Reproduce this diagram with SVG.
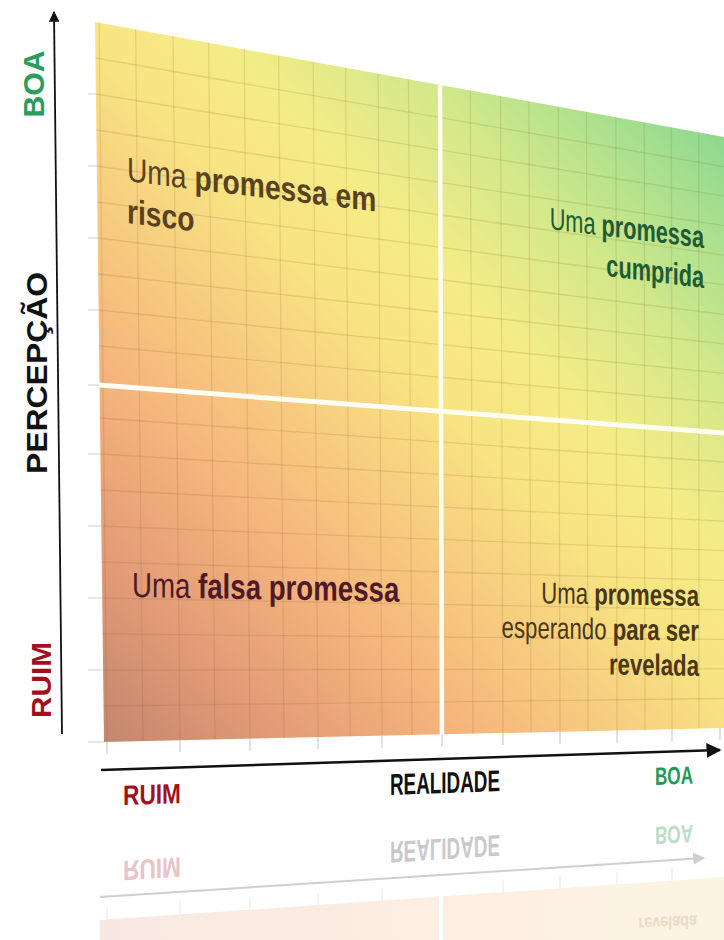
<svg xmlns="http://www.w3.org/2000/svg" width="724" height="940" viewBox="0 0 724 940">
<defs>
<style>
text{font-family:"Liberation Sans",Arial,"DejaVu Sans",sans-serif;}
.b{font-weight:bold}
.grid{fill:none;stroke:#7a5a28;stroke-opacity:0.15;stroke-width:1.3}
.tick{fill:none;stroke:#cdcdcd;stroke-width:1.2}
.rtick{fill:none;stroke:#ececec;stroke-width:1.2}
.div{stroke:#fffef2;fill:none}
</style>
<linearGradient id="panelGrad" gradientUnits="userSpaceOnUse" x1="104" y1="742" x2="724" y2="137">
<stop offset="0" stop-color="#c4866e"/>
<stop offset="0.14" stop-color="#e09a76"/>
<stop offset="0.3" stop-color="#f5b47c"/>
<stop offset="0.42" stop-color="#f7ca7f"/>
<stop offset="0.55" stop-color="#f8e382"/>
<stop offset="0.66" stop-color="#f5ec86"/>
<stop offset="0.8" stop-color="#d2e88a"/>
<stop offset="0.92" stop-color="#a8e08e"/>
<stop offset="1" stop-color="#8ed890"/>
</linearGradient>
<linearGradient id="reflGrad" x1="0" y1="0" x2="1" y2="0">
<stop offset="0" stop-color="#e3ad97"/>
<stop offset="0.5" stop-color="#f3c096"/>
<stop offset="1" stop-color="#f5d99a"/>
</linearGradient>
<marker id="arrowK" viewBox="0 0 10 10" refX="9" refY="5" markerWidth="6" markerHeight="6" orient="auto" markerUnits="strokeWidth">
<path d="M0,0 L10,5 L0,10 z" fill="#111"/>
</marker>
<marker id="arrowG" viewBox="0 0 10 10" refX="9" refY="5" markerWidth="6" markerHeight="6" orient="auto" markerUnits="strokeWidth">
<path d="M0,0 L10,5 L0,10 z" fill="#cfcfcf"/>
</marker>
</defs>

<rect width="724" height="940" fill="#ffffff"/>

<!-- reflection -->
<g id="reflection">
<polygon points="100,920 724,877 724,940 100,940" fill="url(#reflGrad)" opacity="0.28"/>
<path class="rtick" d="M107,907 L107,919.5 M180,902 L180,914.5 M250,897 L250,909.7 M318,893 L318,905 M382,888 L382,900.6 M503,880 L503,892.2 M560,876 L560,888.3 M617,872 L617,884.4 M672,868 L672,880.6"/>
<line x1="441" y1="896" x2="441" y2="940" stroke="#ffffff" stroke-width="4"/>
<line x1="100" y1="897" x2="704" y2="858" stroke="#cfcfcf" stroke-width="2" marker-end="url(#arrowG)"/>
<text class="b" transform="translate(123,861) skewY(-3.6) scale(1,-1)" font-size="28" textLength="58" lengthAdjust="spacingAndGlyphs" fill="#e8c3c7">RUIM</text>
<text class="b" transform="translate(390,842) skewY(-3.6) scale(1,-1)" font-size="30" textLength="110" lengthAdjust="spacingAndGlyphs" fill="#c9c9c9">REALIDADE</text>
<text class="b" transform="translate(655,827) skewY(-3.6) scale(1,-1)" font-size="25" textLength="38" lengthAdjust="spacingAndGlyphs" fill="#bcdcc8">BOA</text>
<text class="b" transform="translate(697,915) skewY(-3) scale(0.8,-1)" font-size="18" text-anchor="end" fill="#e2d2b8" opacity="0.7">revelada</text>
</g>

<!-- panel -->
<g id="panel">
<polygon points="95,22 724,137 724,728 104,742" fill="url(#panelGrad)"/>
<path class="grid" d="M99.1,22.7 L107,741.9 M135.6,29.4 L143,741.1 M173.1,36.3 L180,740.3 M208.6,42.8 L215,739.5 M244.2,49.3 L250,738.7 M278.7,55.6 L284,737.9 M313.2,61.9 L318,737.2 M345.6,67.9 L350,736.4 M378.1,73.8 L382,735.7 M408.5,79.4 L412,735 M470.3,90.7 L473,733.7 M500.6,96.2 L503,733 M528.9,101.4 L531,732.3 M558.2,106.8 L560,731.7 M586.5,111.9 L588,731.1 M615.9,117.3 L617,730.4 M644.2,122.5 L645,729.8 M671.4,127.5 L672,729.2 M698.7,132.5 L699,728.6"/>
<path class="grid" d="M95.5,58 L724,166.6 M95.9,94 L724,196.1 M96.4,130 L724,225.7 M96.8,166 L724,255.2 M97.3,202 L724,284.8 M97.7,238 L724,314.3 M98.2,274 L724,343.9 M98.6,310 L724,373.4 M99.1,346 L724,403 M100,418 L724,462 M100.4,454 L724,491.6 M100.9,490 L724,521.2 M101.3,526 L724,550.7 M101.8,562 L724,580.3 M102.2,598 L724,609.8 M102.7,634 L724,639.4 M103.1,670 L724,668.9 M103.6,706 L724,698.5"/>
<line class="div" x1="440" y1="85" x2="442" y2="735" stroke-width="4.5"/>
<line class="div" x1="99" y1="385" x2="724" y2="433" stroke-width="5"/>
</g>

<!-- ticks -->
<g id="ticks">
<path class="tick" d="M88,94 L95.9,94 M88,166 L96.8,166 M88,238 L97.7,238 M88,310 L98.6,310 M88,385 L99,385 M88,454 L100.4,454 M88,526 L101.3,526 M88,598 L102.2,598 M88,670 L103.1,670 M88,742 L104,742"/>
<path class="tick" d="M107,742 L107,754 M180,740.3 L180,752 M250,738.7 L250,751 M318,737.2 L318,749 M382,735.7 L382,748 M442,734.4 L442,747 M503,733 L503,745 M560,731.7 L560,744 M617,730.4 L617,743 M672,729.2 L672,741 M720,728.2 L720,740"/>
</g>

<!-- axes -->
<g id="connectors">
<line id="axis-y" x1="62" y1="734" x2="54" y2="12" stroke="#111" stroke-width="1.8" marker-end="url(#arrowK)"/>
<line id="axis-x" x1="101" y1="770" x2="720" y2="750" stroke="#111" stroke-width="2.5" marker-end="url(#arrowK)"/>
</g>

<!-- axis labels -->
<g id="label-y-boa"><text class="b" transform="translate(44,84) rotate(-90)" font-size="29" text-anchor="middle" textLength="67" lengthAdjust="spacingAndGlyphs" fill="#2a9d5c">BOA</text></g>
<g id="label-y-percepcao"><text class="b" transform="translate(47,373) rotate(-90)" font-size="29" text-anchor="middle" textLength="202" lengthAdjust="spacingAndGlyphs" fill="#111">PERCEPÇÃO</text></g>
<g id="label-y-ruim"><text class="b" transform="translate(51,680) rotate(-90)" font-size="27" text-anchor="middle" textLength="76" lengthAdjust="spacingAndGlyphs" fill="#a3101c">RUIM</text></g>
<g id="label-x-ruim"><text class="b" transform="translate(123,805) skewY(-2)" font-size="28" textLength="58" lengthAdjust="spacingAndGlyphs" fill="#a3101c">RUIM</text></g>
<g id="label-x-realidade"><text class="b" transform="translate(390,795) skewY(-2)" font-size="30" textLength="110" lengthAdjust="spacingAndGlyphs" fill="#111">REALIDADE</text></g>
<g id="label-x-boa"><text class="b" transform="translate(655,785) skewY(-2)" font-size="25" textLength="38" lengthAdjust="spacingAndGlyphs" fill="#1f9a57">BOA</text></g>

<!-- quadrants -->
<g id="q-risco" transform="translate(127,181) skewY(7) scale(0.83,1)" fill="#584221">
<text x="0" y="0" font-size="34">Uma <tspan class="b">promessa em</tspan></text>
<text x="0" y="42" font-size="34" class="b">risco</text>
</g>
<g id="q-cumprida" transform="translate(704,248) skewY(7) scale(0.7,1)" fill="#1e5b36" text-anchor="end">
<text x="0" y="0" font-size="31">Uma <tspan class="b">promessa</tspan></text>
<text x="0" y="40" font-size="31" class="b">cumprida</text>
</g>
<g id="q-falsa" transform="translate(132,597) skewY(1) scale(0.79,1)" fill="#4e1a2a">
<text x="0" y="0" font-size="35">Uma <tspan class="b">falsa promessa</tspan></text>
</g>
<g id="q-revelada" transform="translate(699,606) skewY(1) scale(0.74,1)" fill="#4a3714" text-anchor="end">
<text x="0" y="0" font-size="30">Uma <tspan class="b">promessa</tspan></text>
<text x="0" y="35" font-size="30">esperando <tspan class="b">para ser</tspan></text>
<text x="0" y="70" font-size="30" class="b">revelada</text>
</g>
</svg>
